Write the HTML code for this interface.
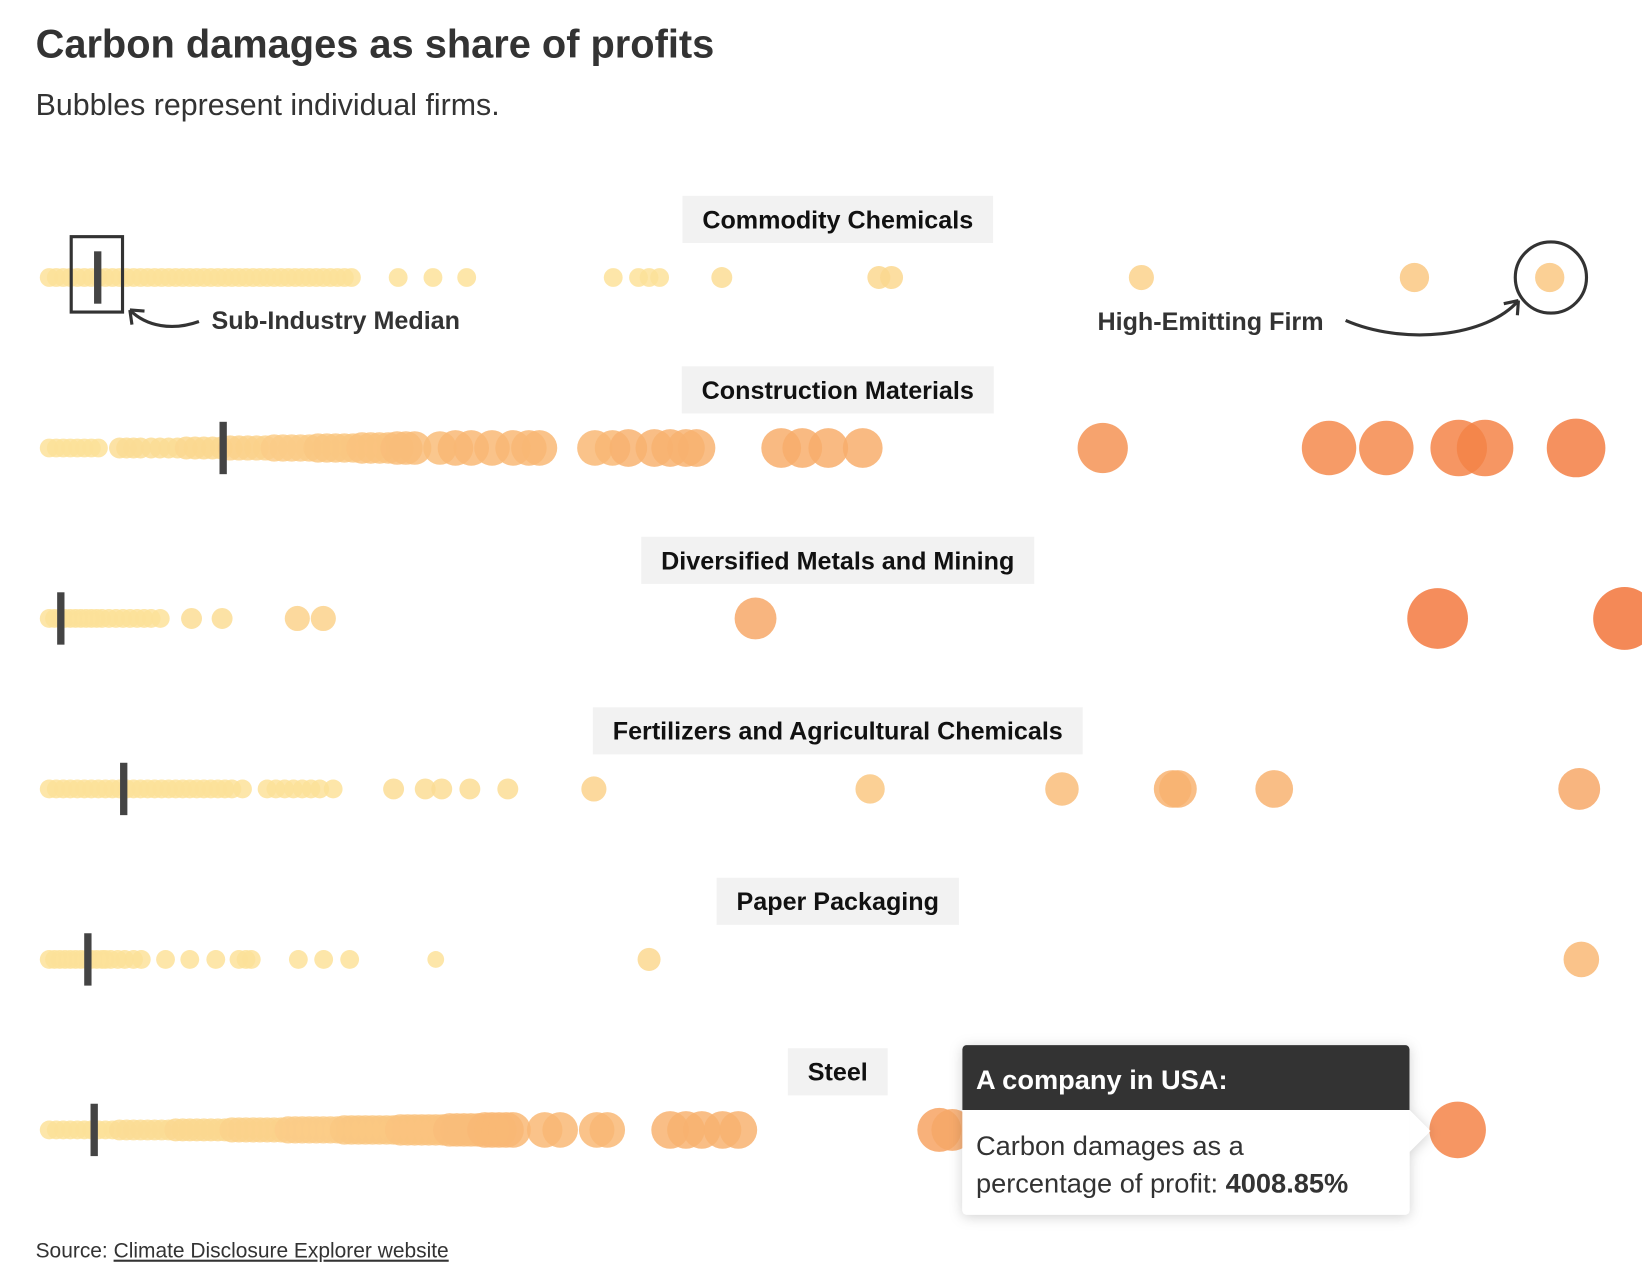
<!DOCTYPE html>
<html><head><meta charset="utf-8">
<style>
html,body{margin:0;padding:0;background:#fff;width:1642px;height:1288px;overflow:hidden}
#wrap{width:1568px;height:1230px;transform:scale(1.04719);transform-origin:0 0;position:relative;font-family:"Liberation Sans",sans-serif;color:#333}
svg text{font-family:"Liberation Sans",sans-serif}
</style></head><body>
<div id="wrap">
<svg id="chart" width="1568" height="1230" viewBox="0 0 1568 1230">
<defs>
<filter id="sh" x="-10%" y="-10%" width="120%" height="130%"><feDropShadow dx="0" dy="2" stdDeviation="6" flood-color="#000" flood-opacity="0.18"/></filter>
</defs>
<text x="34" y="55" font-size="38" font-weight="bold" fill="#333">Carbon damages as share of profits</text>
<text x="34" y="110" font-size="29" fill="#333">Bubbles represent individual firms.</text>
<g id="rows"></g>
<g id="annot">
<rect x="68" y="226" width="49" height="72" fill="none" stroke="#333" stroke-width="3"/>
<path d="M190,307 C165,316 140,312 124,296" fill="none" stroke="#333" stroke-width="3"/>
<path d="M124,296 L126,310 M124,296 L138,297" fill="none" stroke="#333" stroke-width="3"/>
<text x="202" y="314" font-size="24" font-weight="bold" fill="#333">Sub-Industry Median</text>
<circle cx="1481" cy="265" r="34" fill="none" stroke="#333" stroke-width="3"/>
<path d="M1285,306 C1340,330 1420,322 1450,287" fill="none" stroke="#333" stroke-width="3"/>
<path d="M1450,287 L1436,290 M1450,287 L1449,301" fill="none" stroke="#333" stroke-width="3"/>
<text x="1048" y="315" font-size="24" font-weight="bold" fill="#333">High-Emitting Firm</text>
</g>
<g>
<g filter="url(#sh)">
<rect x="919" y="998" width="427" height="162" rx="4" fill="#fff"/>
<path d="M1346,1060 L1366,1080 L1346,1100 Z" fill="#fff"/>
</g>
<path d="M919,1002 a4,4 0 0 1 4,-4 h419 a4,4 0 0 1 4,4 v58 h-427 Z" fill="#333"/>
<text x="932" y="1040" font-size="26" font-weight="bold" fill="#fff">A company in USA:</text>
<text x="932" y="1103" font-size="26" fill="#333">Carbon damages as a</text>
<text x="932" y="1139" font-size="26" fill="#333">percentage of profit: <tspan font-weight="bold">4008.85%</tspan></text>
</g>
<text x="34" y="1201" font-size="20" fill="#333">Source: <tspan text-decoration="underline">Climate Disclosure Explorer website</tspan></text>
</svg>
</div>
<script>
// Values: carbon damages as % of profit; sizes: bubble size units (emissions)
const categories = ["Commodity Chemicals","Construction Materials","Diversified Metals and Mining","Fertilizers and Agricultural Chemicals","Paper Packaging","Steel"];
const medians = [138, 495, 33, 212, 110, 128];
const valuesCommodity = [0,20,40,60,80,100,120,140,160,180,200,220,240,260,280,300,320,340,360,380,400,420,440,460,480,500,520,540,560,580,600,620,640,660,680,700,720,740,760,780,800,820,840,860,993,1092,1188,1605,1677,1707,1737,1914,2361,2397,3108,3885,4270];
const sizesCommodity = [9,9,9,9,9,9,9,9,9,9,9,9,9,9,9,9,9,9,9,9,9,9,9,9,9,9,9,9,9,9,9,9,9,9,9,9,9,9,9,9,9,9,9,9,9,9,9,9,9,9,9,10,11,11,12,14,14];
const valuesConstruction = [0,20,40,60,80,100,120,140,200,220,240,260,290,315,340,365,390,415,440,465,490,515,540,565,590,615,640,665,690,715,740,765,790,815,840,865,890,915,940,965,990,1015,1040,1112,1156,1201,1260,1320,1365,1395,1553,1603,1648,1722,1767,1812,1842,2083,2143,2217,2315,2998,3642,3805,4011,4086,4345];
const sizesConstruction = [9,9,9,9,9,9,9,9,10,10,10,10,10,10,10,10,11,11,11,11,11,12,12,12,12,12,13,13,13,13,13,14,14,14,14,14,15,15,15,15,16,16,16,16,17,17,17,17,17,17,17,17,18,18,18,18,18,19,19,19,19,24,26,26,27,27,28];
const valuesMetals = [0,15,30,45,60,75,90,105,120,135,150,170,190,210,230,250,270,290,316,405,492,706,780,2010,3951,4483];
const sizesMetals = [9,9,9,9,9,9,9,9,9,9,9,9,9,9,9,9,9,9,9,10,10,12,12,20,29,30];
const valuesFertilizers = [0,20,40,60,80,100,120,140,160,180,200,220,240,260,280,300,320,340,360,380,400,420,440,460,480,500,520,550,620,645,670,695,720,745,770,808,980,1070,1117,1197,1305,1550,2336,2882,3197,3212,3486,4354];
const sizesFertilizers = [9,9,9,9,9,9,9,9,9,9,9,9,9,9,9,9,9,9,9,9,9,9,9,9,9,9,9,9,9,9,9,9,9,9,9,9,10,10,10,10,10,12,14,16,18,18,18,20];
const valuesPaper = [0,15,30,45,60,75,90,105,120,135,150,160,175,195,215,240,262,331,400,474,540,560,575,709,781,855,1100,1707,4360];
const sizesPaper = [9,9,9,9,9,9,9,9,9,9,9,9,9,9,9,9,9,9,9,9,9,9,9,9,9,9,8,11,17];
const valuesSteel = [0,20,40,60,80,100,120,140,160,180,200,220,240,260,280,300,320,340,360,380,400,420,440,460,480,500,520,540,560,580,600,620,640,660,680,700,720,740,760,780,800,820,840,860,880,900,920,940,960,980,1000,1020,1040,1060,1080,1100,1120,1140,1160,1180,1200,1220,1240,1260,1280,1300,1320,1410,1454,1558,1588,1767,1812,1857,1916,1961,2533,2570,4008];
const sizesSteel = [9,9,9,9,9,9,9,9,9,9,10,10,10,10,10,10,10,10,11,11,11,11,11,11,11,11,12,12,12,12,12,12,12,12,13,13,13,13,13,13,13,13,14,14,14,14,14,14,14,14,15,15,15,15,15,15,15,16,16,16,16,16,17,17,17,17,17,17,17,17,17,18,18,18,18,18,21,20,27];
const valueSeries = [valuesCommodity,valuesConstruction,valuesMetals,valuesFertilizers,valuesPaper,valuesSteel];
const sizeSeries = [sizesCommodity,sizesConstruction,sizesMetals,sizesFertilizers,sizesPaper,sizesSteel];

const NS = "http://www.w3.org/2000/svg";
const x0 = 47, pxPer = 1/2.98;
function xScale(v){ return x0 + v*pxPer; }
function rScale(s){ return s; }
const rowY0 = 265, rowStep = 162.8;
function yScale(i){ return rowY0 + i*rowStep; }
function lerp(a,b,t){return Math.round(a+(b-a)*t);}
function colorFor(s){
  const t = Math.max(0, Math.min(1,(s-9)/21));
  const c0=[253,226,154], c1=[242,116,58];
  return `rgb(${lerp(c0[0],c1[0],t)},${lerp(c0[1],c1[1],t)},${lerp(c0[2],c1[2],t)})`;
}
const rows = document.getElementById('rows');
categories.forEach((cat,i)=>{
  const g = document.createElementNS(NS,'g');
  
  
  const y = yScale(i);
  const t = document.createElementNS(NS,'text');
  t.setAttribute('x', 800); t.setAttribute('y', y-47);
  t.setAttribute('text-anchor','middle'); t.setAttribute('font-size','24'); t.setAttribute('font-weight','bold'); t.setAttribute('fill','#111');
  t.textContent = cat;
  const bg = document.createElementNS(NS,'rect');
  g.appendChild(bg); g.appendChild(t);
  rows.appendChild(g);
  const bb = t.getBBox();
  bg.setAttribute('x', bb.x-19); bg.setAttribute('y', y-78); bg.setAttribute('width', bb.width+38); bg.setAttribute('height', 45); bg.setAttribute('fill','#f2f2f2');
  
  
  
  
  const vals = valueSeries[i], sz = sizeSeries[i];
  vals.forEach((v,j)=>{
    const c = document.createElementNS(NS,'circle');
    c.setAttribute('cx', xScale(v)); c.setAttribute('cy', y); c.setAttribute('r', rScale(sz[j]));
    c.setAttribute('fill', colorFor(sz[j])); c.setAttribute('fill-opacity','0.85');
    
    
    g.appendChild(c);
  });
  const m = document.createElementNS(NS,'rect');
  m.setAttribute('x', xScale(medians[i])-3.5); m.setAttribute('y', y-25); m.setAttribute('width', 7); m.setAttribute('height', 50); m.setAttribute('fill','#444');
  
  
  g.appendChild(m);
});
</script>
</body></html>
